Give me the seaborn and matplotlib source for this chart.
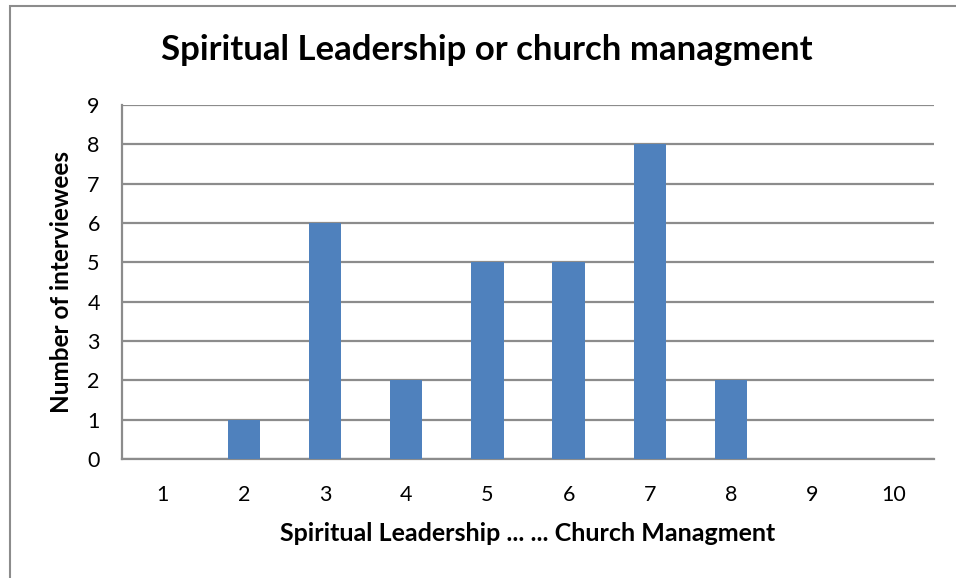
import matplotlib
matplotlib.use("Agg")
import matplotlib.pyplot as plt
import seaborn as sns
import pandas as pd
from matplotlib.patches import Rectangle

# data
categories = ["1", "2", "3", "4", "5", "6", "7", "8", "9", "10"]
interviewees = [0, 1, 6, 2, 5, 5, 8, 2, 0, 0]
yticks = list(range(0, 10))

title = "Spiritual Leadership or church managment"
xlabel = "Spiritual Leadership ... ... Church Managment"
ylabel = "Number of interviewees"

sns.set_style("white")
plt.rcParams["font.family"] = ["Lato", "DejaVu Sans"]

df = pd.DataFrame({"score": categories, "count": interviewees})

fig = plt.figure(figsize=(9.56, 5.78), dpi=100)
ax = fig.add_axes([122 / 956, 119 / 578, 812 / 956, 354 / 578])

sns.barplot(data=df, x="score", y="count", order=categories, color="#4F81BD",
            saturation=1, width=0.4, linewidth=0, ax=ax, zorder=3)

ax.set_ylim(0, 9)
ax.set_xlim(-0.5, len(categories) - 0.5)
ax.set_yticks(yticks)
ax.yaxis.grid(True, color="#8C8C8C", linewidth=1.6, zorder=0)
ax.set_axisbelow(True)
for side in ["top", "right"]:
    ax.spines[side].set_visible(False)
for side in ["left", "bottom"]:
    ax.spines[side].set_color("#8C8C8C")
    ax.spines[side].set_linewidth(1.6)
ax.tick_params(axis="both", length=0, labelsize=15.5, colors="black")
ax.tick_params(axis="y", pad=16)
ax.tick_params(axis="x", pad=19)

ax.set_xlabel(xlabel, fontsize=18, fontweight="bold", labelpad=12, color="black")
ax.set_ylabel(ylabel, fontsize=17.5, fontweight="bold", labelpad=10, color="black")
fig.text(487 / 956, 1 - 50 / 578, title, fontsize=25, fontweight="bold",
         ha="center", va="center", color="black")

# chart area border (only left and top edges visible)
fig.patches.append(Rectangle((10 / 956, -0.1), 1.2, 1 - 6 / 578 + 0.1,
                             transform=fig.transFigure, fill=False,
                             edgecolor="#8C8C8C", linewidth=1.5))

fig.savefig("out.png", dpi=100)
